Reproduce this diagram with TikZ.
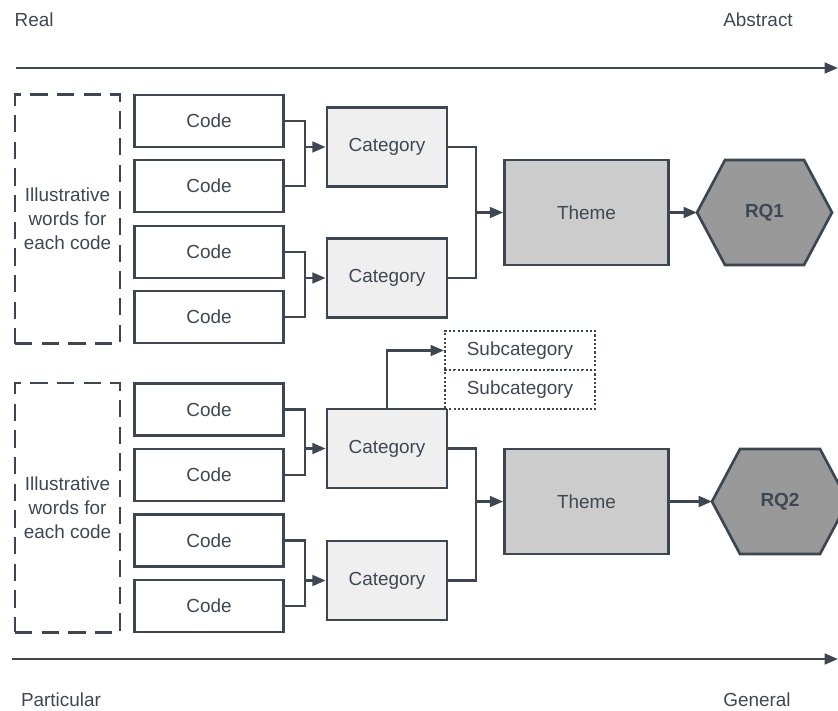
\documentclass[tikz,border=0pt]{standalone}
\usepackage{fontspec}
\setmainfont{Liberation Sans}
\usetikzlibrary{arrows.meta}
\definecolor{strk}{RGB}{62,71,81}
\definecolor{txt}{RGB}{63,72,82}
\definecolor{catfill}{RGB}{239,239,239}
\definecolor{themefill}{RGB}{204,204,204}
\definecolor{rqfill}{RGB}{153,153,153}
\begin{document}
\begin{tikzpicture}[x=0.75pt,y=-0.75pt,
  every node/.style={text=txt,font=\fontsize{14.2}{18}\selectfont},
  box/.style={draw=strk,line width=2pt,rectangle,inner sep=0pt},
  codebox/.style={box,fill=white,minimum width=111.75pt,minimum height=39pt},
  catbox/.style={box,fill=catfill,minimum width=90pt,minimum height=59.25pt},
  themebox/.style={box,fill=themefill,minimum width=123pt,minimum height=78.75pt},
  illbox/.style={draw=strk,line width=2pt,dash pattern=on 13pt off 7pt,fill=white,minimum width=78.75pt,minimum height=187pt,align=center,inner sep=0pt},
  subbox/.style={draw=strk,line width=1.6pt,dash pattern=on 1.6pt off 1.6pt,fill=white,minimum width=112.5pt,minimum height=29.25pt,inner sep=0pt},
  conn/.style={draw=strk,line width=2pt},
  arr/.style={conn,-{Triangle[length=10pt,width=8pt]}},
  axis/.style={draw=strk,line width=1.9pt,-{Triangle[length=10pt,width=8pt]}},
  hexa/.style={draw=strk,line width=2pt,fill=rqfill,line join=miter}]
\useasboundingbox (0,0) rectangle (838,710);

% labels
\node[anchor=west] (lreal) at (10,20) {Real};
\node (labs) at (758,20) {Abstract};
\node (lpart) at (61,700) {Particular};
\node (lgen) at (757,700) {General};

% axes
\coordinate (ta0) at (16,68);
\coordinate (ta1) at (838,68);
\coordinate (ba0) at (12,659);
\coordinate (ba1) at (838,659);
\draw[axis] (ta0) -- (ta1);
\draw[axis] (ba0) -- (ba1);

% illustrative boxes
\node[illbox] (ill1) at (67.5,219) {Illustrative\\words for\\each code};
\node[illbox] (ill2) at (67.5,507.5) {Illustrative\\words for\\each code};

% codes
\node[codebox] (c1) at (209,121) {Code};
\node[codebox] (c2) at (209,186) {Code};
\node[codebox] (c3) at (209,252) {Code};
\node[codebox] (c4) at (209,317) {Code};
\node[codebox] (c5) at (209,409.5) {Code};
\node[codebox] (c6) at (209,475) {Code};
\node[codebox] (c7) at (209,540.5) {Code};
\node[codebox] (c8) at (209,606) {Code};

% categories
\node[catbox] (k1) at (387,147) {Category};
\node[catbox] (k2) at (387,278) {Category};
\node[catbox] (k3) at (387,448.5) {Category};
\node[catbox] (k4) at (387,580.5) {Category};

% subcategories
\node[subbox] (s1) at (520,350.5) {Subcategory};
\node[subbox] (s2) at (520,389.5) {Subcategory};

% themes
\node[themebox] (t1) at (586.5,212.5) {Theme};
\node[themebox] (t2) at (586.5,501.5) {Theme};

% RQ hexagons
\draw[hexa] (697,212.5) -- (725,160) -- (804,160) -- (832,212.5) -- (804,265) -- (725,265) -- cycle;
\node[font=\fontsize{14.2}{18}\selectfont\bfseries] (rq1) at (764.5,212.5) {RQ1};
\coordinate (rq1w) at (697,212.5);
\draw[hexa] (712,501.5) -- (740,449) -- (820,449) -- (848,501.5) -- (820,554) -- (740,554) -- cycle;
\node[font=\fontsize{14.2}{18}\selectfont\bfseries] (rq2) at (780,501.5) {RQ2};
\coordinate (rq2w) at (712,501.5);

% junctions
\coordinate (j1) at (305,147);
\coordinate (j2) at (305,278);
\coordinate (j3) at (305,448.5);
\coordinate (j4) at (305,580.5);
\coordinate (m1) at (476,212.5);
\coordinate (m2) at (476,501.5);
\coordinate (sub0) at (387,409);

% code -> category
\draw[conn] (c1.east) -| (j1) |- (c2.east);
\draw[arr] (j1) -- (k1.west);
\draw[conn] (c3.east) -| (j2) |- (c4.east);
\draw[arr] (j2) -- (k2.west);
\draw[conn] (c5.east) -| (j3) |- (c6.east);
\draw[arr] (j3) -- (k3.west);
\draw[conn] (c7.east) -| (j4) |- (c8.east);
\draw[arr] (j4) -- (k4.west);

% category -> theme
\draw[conn] (k1.east) -| (m1) |- (k2.east);
\draw[arr] (m1) -- (t1.west);
\draw[conn] (k3.east) -| (m2) |- (k4.east);
\draw[arr] (m2) -- (t2.west);

% category -> subcategory
\draw[arr] (sub0) |- (s1.west);

% theme -> RQ
\draw[arr] (t1.east) -- (rq1w);
\draw[arr] (t2.east) -- (rq2w);
\end{tikzpicture}
\end{document}
